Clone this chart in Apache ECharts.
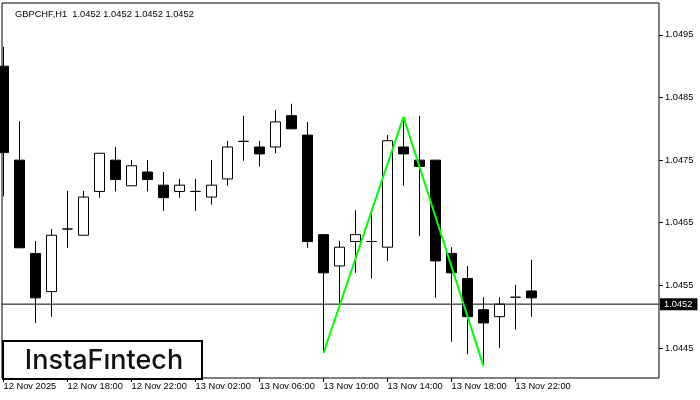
<!DOCTYPE html>
<html>
<head>
<meta charset="utf-8">
<script src="https://cdn.jsdelivr.net/npm/echarts@6/dist/echarts.min.js"></script>
<style>html,body{margin:0;padding:0;background:#fff}#c{width:700px;height:400px}</style>
</head>
<body>
<div id="c"></div>
<script>
// Candle index (hours since 12 Nov 14:00), open, close, low, high
const candleIndex = [0,1,2,3,4,5,6,7,8,9,10,11,12,13,14,15,16,17,18,19,20,21,22,23,24,25,26,27,28,29,30,31,32,33];
const opens  = [1.04900,1.04750,1.04601,1.04540,1.04640,1.04630,1.04700,1.04750,1.04709,1.04731,1.04710,1.04700,1.04700,1.04691,1.04720,1.04780,1.04771,1.04771,1.04821,1.04790,1.04631,1.04581,1.04620,1.04620,1.04611,1.04771,1.04750,1.04750,1.04601,1.04561,1.04511,1.04500,1.04531,1.04541];
const closes = [1.04762,1.04610,1.04530,1.04630,1.04640,1.04691,1.04761,1.04719,1.04741,1.04719,1.04690,1.04710,1.04700,1.04710,1.04771,1.04780,1.04760,1.04811,1.04800,1.04620,1.04570,1.04611,1.04631,1.04620,1.04781,1.04760,1.04740,1.04589,1.04570,1.04500,1.04490,1.04520,1.04531,1.04530];
const lows   = [1.04692,1.04610,1.04490,1.04500,1.04610,1.04630,1.04690,1.04700,1.04709,1.04700,1.04669,1.04690,1.04669,1.04679,1.04709,1.04749,1.04740,1.04761,1.04800,1.04610,1.04442,1.04520,1.04570,1.04561,1.04589,1.04709,1.04629,1.04530,1.04460,1.04440,1.04421,1.04450,1.04479,1.04500];
const highs  = [1.04931,1.04812,1.04621,1.04640,1.04701,1.04701,1.04761,1.04771,1.04750,1.04750,1.04731,1.04720,1.04720,1.04750,1.04781,1.04821,1.04781,1.04830,1.04840,1.04811,1.04631,1.04621,1.04670,1.04665,1.04790,1.04818,1.04821,1.04750,1.04611,1.04581,1.04531,1.04531,1.04551,1.04591];

// Pattern zigzag (candle index, price)
const patternX = [20, 25, 30];
const patternY = [1.04442, 1.04819, 1.04421];

// Axis labels
const timeTickIndex = [0, 4, 8, 12, 16, 20, 24, 28, 32];
const timeTickLabels = ['12 Nov 2025','12 Nov 18:00','12 Nov 22:00','13 Nov 02:00','13 Nov 06:00','13 Nov 10:00','13 Nov 14:00','13 Nov 18:00','13 Nov 22:00'];
const priceTicks = [1.0445, 1.0455, 1.0465, 1.0475, 1.0485, 1.0495];
const lastPrice = 1.0452;
const symbolTitle = 'GBPCHF,H1  1.0452 1.0452 1.0452 1.0452';

// Axis extents
const xMin = -0.094, xMax = 40.97;
const yMin = 1.04402, yMax = 1.05001;

const candleData = candleIndex.map((x, i) => [x, opens[i], closes[i], lows[i], highs[i]]);
const patternData = patternX.map((x, i) => [x, patternY[i]]);
const lastPriceData = [[xMin, lastPrice], [xMax, lastPrice]];

const chart = echarts.init(document.getElementById('c'), null, {renderer: 'canvas'});
const FONT = 'Liberation Sans';
const FS = 9.3;
chart.setOption({
  animation: false,
  backgroundColor: '#fff',
  title: {
    text: symbolTitle, left: 10, top: 5,
    textStyle: {fontFamily: FONT, fontSize: FS, fontWeight: 'normal', color: '#000'}
  },
  grid: {left: 2, right: 41, top: 3, bottom: 22, show: true, borderColor: '#000', borderWidth: 1, backgroundColor: 'transparent'},
  xAxis: {
    type: 'value', min: xMin, max: xMax,
    axisLine: {show: false, onZero: false},
    splitLine: {show: false},
    axisTick: {show: true, customValues: timeTickIndex, length: 4, lineStyle: {color: '#000'}},
    axisLabel: {
      customValues: timeTickIndex,
      formatter: v => timeTickLabels[timeTickIndex.indexOf(Math.round(v))] || '',
      align: 'left', margin: 4, fontFamily: FONT, fontSize: FS, color: '#000'
    }
  },
  yAxis: {
    type: 'value', position: 'right', min: yMin, max: yMax, scale: true,
    axisLine: {show: false, onZero: false},
    splitLine: {show: false},
    axisTick: {show: true, customValues: priceTicks, length: 4, lineStyle: {color: '#000'}},
    axisLabel: {customValues: priceTicks, formatter: v => v.toFixed(4), margin: 6, fontFamily: FONT, fontSize: FS, color: '#000'}
  },
  series: [
    {
      type: 'candlestick',
      data: candleData,
      barWidth: 10,
      clip: true,
      itemStyle: {color: '#fff', color0: '#000', borderColor: '#000', borderColor0: '#000', borderColorDoji: '#000', borderWidth: 1},
      z: 2
    },
    {
      type: 'line',
      data: lastPriceData,
      symbol: 'none',
      silent: true,
      lineStyle: {color: '#000', width: 1},
      endLabel: {show: true, formatter: lastPrice.toFixed(4), backgroundColor: '#000', color: '#fff', padding: [2, 5, 1, 4], distance: 1, fontFamily: FONT, fontSize: FS},
      z: 3
    },
    {
      type: 'line',
      data: patternData,
      symbol: 'none',
      lineStyle: {color: '#00ff00', width: 2},
      z: 4
    }
  ],
  graphic: [{
    type: 'group', left: 2, top: 340,
    children: [
      {type: 'rect', shape: {x: 0, y: 0, width: 199, height: 38}, style: {fill: '#fff', stroke: '#000', lineWidth: 2}},
      {type: 'text', x: 101, y: 20, style: {text: 'InstaFıntech', fontFamily: 'Inter', fontWeight: 500, fontSize: 27, fill: '#111', align: 'center', verticalAlign: 'middle'}}
    ]
  }]
});
</script>
</body>
</html>
